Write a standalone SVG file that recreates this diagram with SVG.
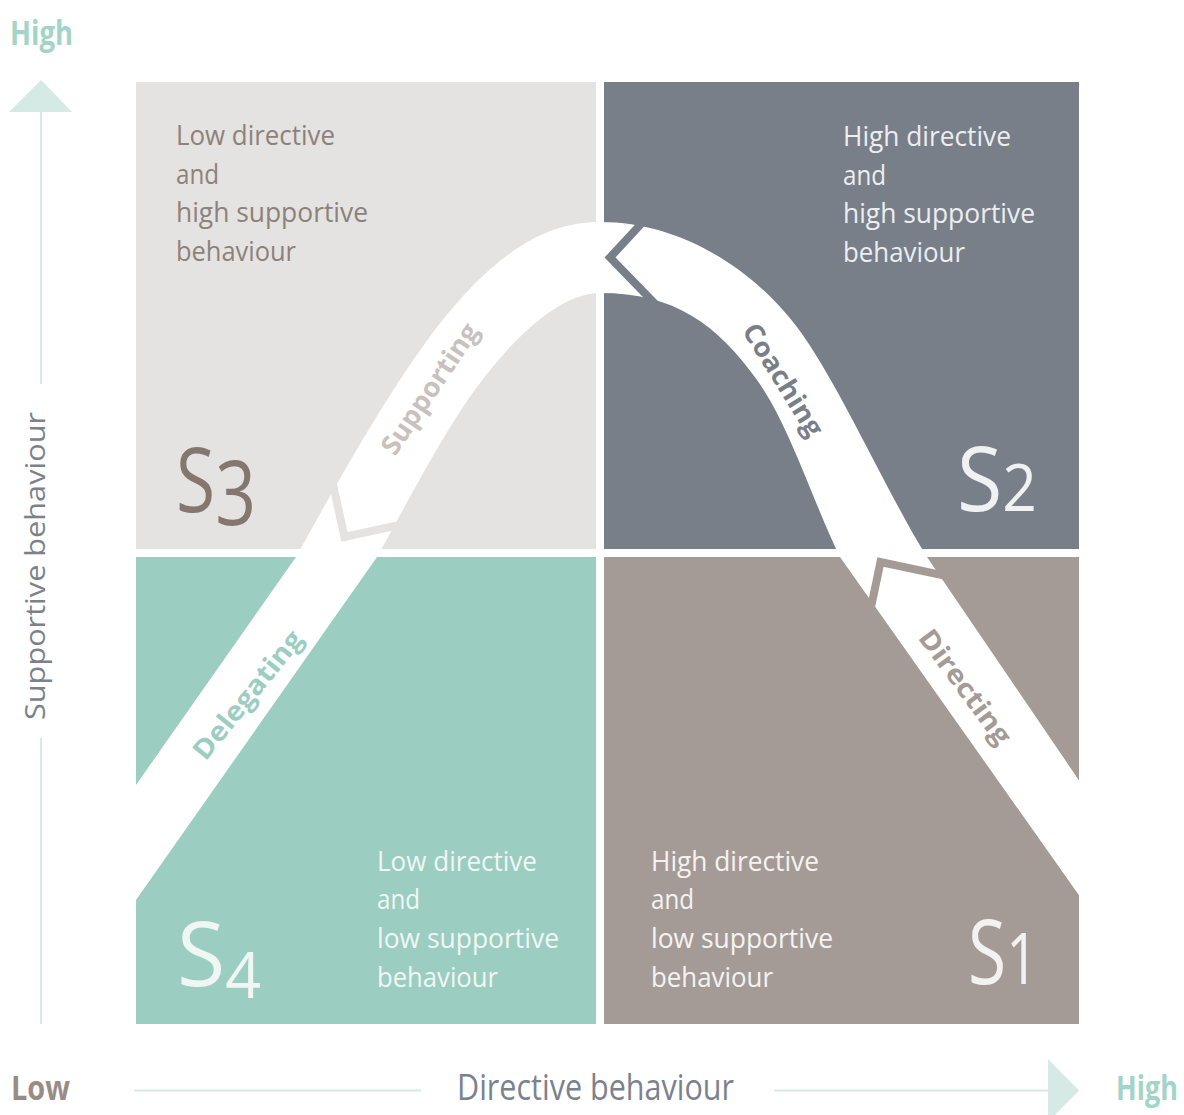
<svg xmlns="http://www.w3.org/2000/svg" width="1184" height="1115" viewBox="0 0 1184 1115">
<style>
  .qt { font-family: "Open Sans", "Liberation Sans", sans-serif; font-size: 27px; font-weight: 400; }
  .big { font-family: "Open Sans", "Liberation Sans", sans-serif; font-size: 90px; font-weight: 400; }
  .lbl { font-family: "Open Sans", "Liberation Sans", sans-serif; font-size: 27px; font-weight: 700; text-anchor: middle; }
  .axb { font-family: "Open Sans", "Liberation Sans", sans-serif; font-size: 34px; font-weight: 700; }
  .axt { font-family: "Open Sans", "Liberation Sans", sans-serif; font-weight: 400; fill: #7b828c; }
  .gap { fill: none; stroke-width: 8; stroke-linejoin: miter; stroke-miterlimit: 10; }
  .axis { stroke: #d5eae4; stroke-width: 2; fill: none; }
</style>
<defs>
  <clipPath id="clipAll"><rect x="136" y="82" width="943" height="942"/></clipPath>
  <clipPath id="clipTL"><rect x="136" y="82" width="460" height="467"/></clipPath>
  <clipPath id="clipTR"><rect x="604" y="82" width="475" height="467"/></clipPath>
  <clipPath id="clipBR"><rect x="604" y="557" width="475" height="467"/></clipPath>
</defs>
<rect width="1184" height="1115" fill="#ffffff"/>

<g id="axis-y">
  <polygon points="9,112 72,112 41,80" fill="#d5eae4"/>
  <line class="axis" x1="41" y1="111" x2="41" y2="384"/>
  <line class="axis" x1="41" y1="738" x2="41" y2="1024"/>
  <text class="axb" x="10" y="45" fill="#a3d4c7" textLength="63" lengthAdjust="spacingAndGlyphs">High</text>
  <text class="axt" font-size="28" transform="translate(45,566) rotate(-90)" text-anchor="middle" textLength="308" lengthAdjust="spacingAndGlyphs">Supportive behaviour</text>
</g>

<g id="axis-x">
  <line class="axis" x1="134" y1="1090.5" x2="421" y2="1090.5"/>
  <line class="axis" x1="774" y1="1090.5" x2="1049" y2="1090.5"/>
  <polygon points="1048,1059 1079,1090.5 1048,1122" fill="#d5eae4"/>
  <text class="axb" x="11" y="1100" fill="#998c85" textLength="59" lengthAdjust="spacingAndGlyphs">Low</text>
  <text class="axt" font-size="36" x="457" y="1100" textLength="277" lengthAdjust="spacingAndGlyphs">Directive behaviour</text>
  <text class="axb" x="1116" y="1100" fill="#a3d4c7" textLength="62" lengthAdjust="spacingAndGlyphs">High</text>
</g>

<g id="node-s3">
  <rect x="136" y="82" width="460" height="467" fill="#e5e3e1"/>
  <g class="qt" fill="#8c817b">
    <text x="176" y="145" textLength="159" lengthAdjust="spacingAndGlyphs">Low directive</text>
    <text x="176" y="183.5" textLength="43" lengthAdjust="spacingAndGlyphs">and</text>
    <text x="176" y="222" textLength="192" lengthAdjust="spacingAndGlyphs">high supportive</text>
    <text x="176" y="260.5" textLength="120" lengthAdjust="spacingAndGlyphs">behaviour</text>
  </g>
  <text class="big" x="176" y="512" fill="#84776f" textLength="80" lengthAdjust="spacingAndGlyphs">S<tspan dy="13">3</tspan></text>
</g>

<g id="node-s2">
  <rect x="604" y="82" width="475" height="467" fill="#787f89"/>
  <g class="qt" fill="#eceef0">
    <text x="843" y="146" textLength="168" lengthAdjust="spacingAndGlyphs">High directive</text>
    <text x="843" y="184.5" textLength="43" lengthAdjust="spacingAndGlyphs">and</text>
    <text x="843" y="223" textLength="192" lengthAdjust="spacingAndGlyphs">high supportive</text>
    <text x="843" y="262" textLength="122" lengthAdjust="spacingAndGlyphs">behaviour</text>
  </g>
  <text class="big" x="957" y="511" fill="#f0f1f3" textLength="80" lengthAdjust="spacingAndGlyphs">S<tspan font-size="66">2</tspan></text>
</g>

<g id="node-s4">
  <rect x="136" y="557" width="460" height="467" fill="#9ccdc1"/>
  <g class="qt" fill="#f0f7f5">
    <text x="377" y="871" textLength="160" lengthAdjust="spacingAndGlyphs">Low directive</text>
    <text x="377" y="909" textLength="43" lengthAdjust="spacingAndGlyphs">and</text>
    <text x="377" y="948" textLength="182" lengthAdjust="spacingAndGlyphs">low supportive</text>
    <text x="377" y="987" textLength="121" lengthAdjust="spacingAndGlyphs">behaviour</text>
  </g>
  <text class="big" x="177" y="986" fill="#f0f6f4" textLength="84" lengthAdjust="spacingAndGlyphs">S<tspan font-size="64" dy="12">4</tspan></text>
</g>

<g id="node-s1">
  <rect x="604" y="557" width="475" height="467" fill="#a59b96"/>
  <g class="qt" fill="#f5f3f2">
    <text x="651" y="871" textLength="168" lengthAdjust="spacingAndGlyphs">High directive</text>
    <text x="651" y="909" textLength="43" lengthAdjust="spacingAndGlyphs">and</text>
    <text x="651" y="948" textLength="182" lengthAdjust="spacingAndGlyphs">low supportive</text>
    <text x="651" y="987" textLength="122" lengthAdjust="spacingAndGlyphs">behaviour</text>
  </g>
  <text class="big" x="968" y="984" fill="#f3f2f1" textLength="70" lengthAdjust="spacingAndGlyphs">S<tspan font-size="72">1</tspan></text>
</g>

<g id="connectors">
  <path clip-path="url(#clipAll)" fill="#ffffff" d="M110,822 L296,557 C336,485 381,403.6 426,342 C491,253 545,222 600,222 C680,222 752,268 797,327 C837,379.8 887,493 927,557 L1105,818.6 L1105,932 L840,557 C815,507 790,426 757,380 C717,324.4 675,293 600,293 C555,293 505,349 477,387 C442,434 397,522 377,557 L110,937 Z"/>
  <polyline class="gap" clip-path="url(#clipTR)" stroke="#787f89" points="661,202.4 610,257.5 662.3,311.2"/>
  <polyline class="gap" clip-path="url(#clipTL)" stroke="#e5e3e1" points="327.4,458.8 344.5,537 422.7,519.8"/>
  <polyline class="gap" clip-path="url(#clipBR)" stroke="#a59b96" points="864.1,640.3 880.5,562 958.7,578.7"/>
  <text class="lbl" fill="#c8c1bd" transform="translate(430,389) rotate(-56)" y="9" textLength="152" lengthAdjust="spacingAndGlyphs">Supporting</text>
  <text class="lbl" fill="#787f89" transform="translate(783,380) rotate(58)" y="9" textLength="128" lengthAdjust="spacingAndGlyphs">Coaching</text>
  <text class="lbl" fill="#a59b96" transform="translate(965,687) rotate(53.5)" y="9" textLength="136" lengthAdjust="spacingAndGlyphs">Directing</text>
  <text class="lbl" fill="#9ccdc1" transform="translate(248,695) rotate(-51)" y="9" textLength="157" lengthAdjust="spacingAndGlyphs">Delegating</text>
</g>
</svg>
